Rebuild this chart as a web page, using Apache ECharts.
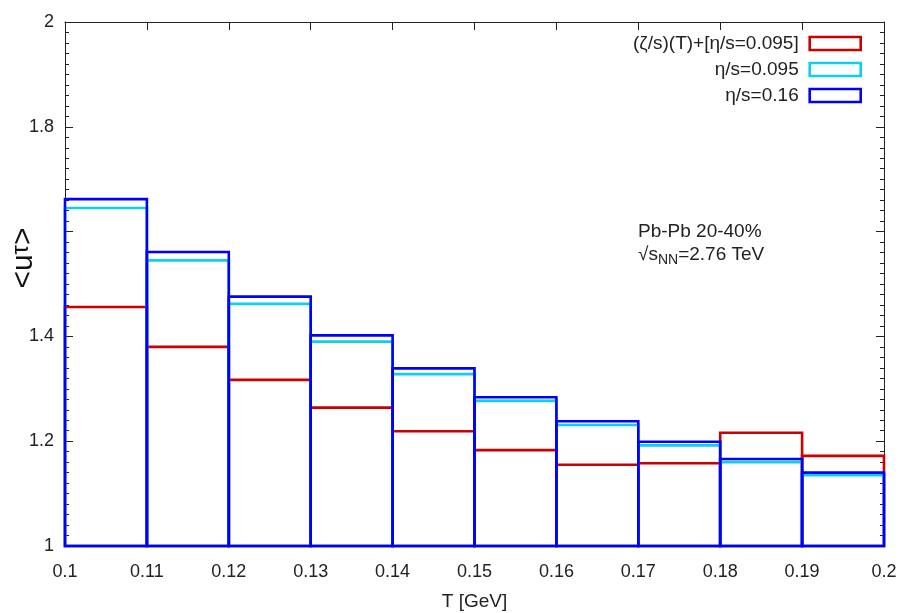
<!DOCTYPE html>
<html>
<head>
<meta charset="utf-8">
<script src="https://cdn.jsdelivr.net/npm/echarts@6/dist/echarts.min.js"></script>
<style>
  html, body { margin: 0; padding: 0; background: #fff; }
  #container { width: 914px; height: 613px; }
</style>
</head>
<body>
<div id="container"></div>
<script>
// bin edges in T [GeV]
var binLow  = [0.10, 0.11, 0.12, 0.13, 0.14, 0.15, 0.16, 0.17, 0.18, 0.19];
var binHigh = [0.11, 0.12, 0.13, 0.14, 0.15, 0.16, 0.17, 0.18, 0.19, 0.20];

// <u^tau> per bin
var bulkVisc  = [1.456, 1.380, 1.317, 1.264, 1.219, 1.183, 1.155, 1.158, 1.216, 1.172];
var eta095    = [1.645, 1.545, 1.462, 1.390, 1.328, 1.277, 1.231, 1.192, 1.160, 1.135];
var eta016    = [1.662, 1.561, 1.476, 1.402, 1.339, 1.284, 1.238, 1.199, 1.166, 1.140];

var seriesNames = ['(ζ/s)(T)+[η/s=0.095]', 'η/s=0.095', 'η/s=0.16'];
var seriesColors = ['#cc0000', '#10cfee', '#0000ff'];

// y tick labels that are printed (1.6 is left blank in the original)
var yLabels = ['1', '1.2', '1.4', '1.8', '2'];

var FONT = 'Liberation Sans';
var yBase = 1;

var dom = document.getElementById('container');
var myChart = echarts.init(dom);

function binData(values) {
    return values.map(function (v, i) {
        return [binLow[i], binHigh[i], v];
    });
}

function renderBins(color) {
    return function (params, api) {
        var p0 = api.coord([api.value(0), api.value(2)]);
        var p1 = api.coord([api.value(1), yBase]);
        return {
            type: 'rect',
            shape: { x: p0[0], y: p0[1], width: p1[0] - p0[0], height: p1[1] - p0[1] },
            style: { fill: 'none', stroke: color, lineWidth: 2.6 }
        };
    };
}

var allData = [bulkVisc, eta095, eta016];
var series = allData.map(function (vals, k) {
    return {
        name: seriesNames[k],
        type: 'custom',
        renderItem: renderBins(seriesColors[k]),
        data: binData(vals),
        encode: { x: [0, 1], y: 2 },
        itemStyle: { color: seriesColors[k] },
        z: 2 + k
    };
});

var axisLineStyle = { color: '#222', width: 1 };

// y axis, either side; minor=true gives the small 0.02 ticks only
function yAx(pos, minor) {
    return {
        type: 'value',
        min: 1, max: 2, interval: minor ? 0.02 : 0.2,
        position: pos,
        axisLine: { show: !minor, lineStyle: axisLineStyle },
        axisTick: { show: true, inside: true, length: minor ? 4 : 8, lineStyle: axisLineStyle },
        splitLine: { show: false },
        axisLabel: (pos === 'left' && !minor) ? {
            fontFamily: FONT, fontSize: 18, color: '#222', margin: 11,
            formatter: function (v) {
                var s = String(+v.toFixed(2));
                return yLabels.indexOf(s) >= 0 ? s : '';
            }
        } : { show: false }
    };
}

var option = {
    backgroundColor: '#fff',
    animation: false,
    grid: { left: 65, right: 30, top: 22, bottom: 67, outerBoundsMode: 'none', containLabel: false },
    legend: {
        orient: 'vertical',
        right: 52,
        top: 34,
        padding: 0,
        align: 'right',
        icon: 'rect',
        itemWidth: 51,
        itemHeight: 13,
        itemGap: 7,
        selectedMode: false,
        textStyle: {
            fontFamily: FONT, fontSize: 19, color: '#222',
            width: 260, align: 'right', padding: [0, 6, 0, 0]
        },
        data: seriesNames.map(function (n, k) {
            return {
                name: n,
                itemStyle: { color: '#fff', borderColor: seriesColors[k], borderWidth: 2.6 }
            };
        })
    },
    xAxis: [{
        type: 'value',
        min: 0.1, max: 0.2, interval: 0.01,
        position: 'bottom',
        axisLine: { show: true, lineStyle: axisLineStyle },
        axisTick: { show: true, inside: true, length: 8, lineStyle: axisLineStyle },
        splitLine: { show: false },
        axisLabel: { fontFamily: FONT, fontSize: 18, color: '#222', margin: 17 },
        name: 'T [GeV]',
        nameLocation: 'middle',
        nameGap: 46,
        nameTextStyle: { fontFamily: FONT, fontSize: 19, color: '#222' }
    }, {
        type: 'value',
        min: 0.1, max: 0.2, interval: 0.01,
        position: 'top',
        axisLine: { show: true, lineStyle: axisLineStyle },
        axisTick: { show: true, inside: true, length: 8, lineStyle: axisLineStyle },
        splitLine: { show: false },
        axisLabel: { show: false }
    }],
    yAxis: [yAx('left', false), yAx('right', false), yAx('left', true), yAx('right', true)],
    graphic: [{
        type: 'text',
        x: 24, y: 258,
        rotation: Math.PI / 2,
        style: {
            text: '<u{sup|τ}>',
            fontFamily: FONT, fontSize: 30, fill: '#111',
            align: 'center', verticalAlign: 'middle',
            rich: {
                sup: { fontFamily: FONT, fontSize: 24, lineHeight: 16, verticalAlign: 'top', fill: '#111' }
            }
        }
    }, {
        type: 'text',
        x: 638, y: 232,
        style: {
            text: 'Pb-Pb 20-40%',
            fontFamily: FONT, fontSize: 19, fill: '#222',
            align: 'left', verticalAlign: 'middle'
        }
    }, {
        type: 'text',
        x: 638, y: 255,
        style: {
            text: '√s{sub|NN}=2.76 TeV',
            fontFamily: FONT, fontSize: 19, fill: '#222', lineHeight: 24,
            align: 'left', verticalAlign: 'middle',
            rich: {
                sub: { fontFamily: FONT, fontSize: 14, lineHeight: 12, verticalAlign: 'bottom', fill: '#222' }
            }
        }
    }],
    series: series
};

myChart.setOption(option);
</script>
</body>
</html>
